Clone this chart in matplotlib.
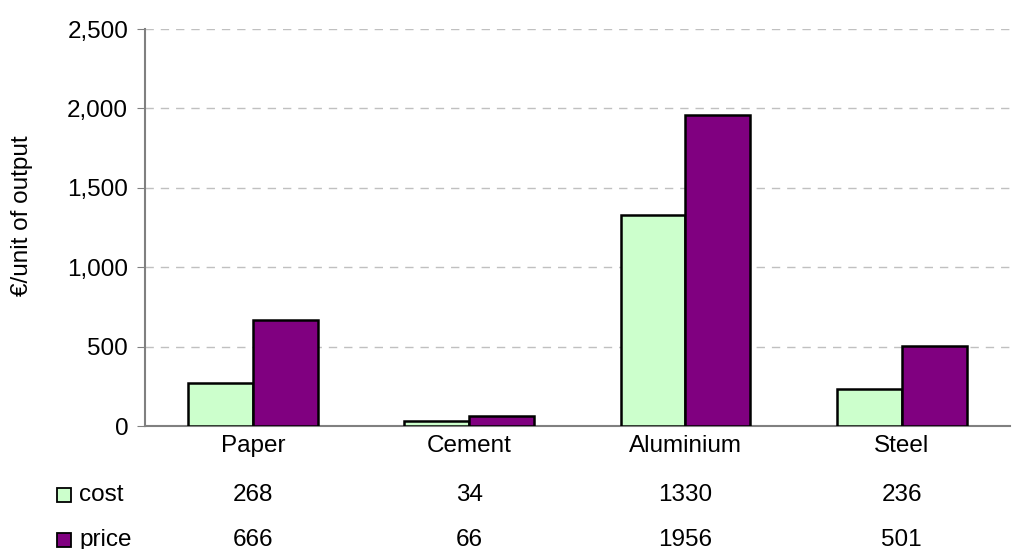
import numpy as np
import matplotlib.pyplot as plt
from matplotlib.patches import Rectangle
from matplotlib.transforms import blended_transform_factory

plt.rcParams['font.family'] = ['Liberation Sans', 'DejaVu Sans']

categories = ['Paper', 'Cement', 'Aluminium', 'Steel']
cost = [268, 34, 1330, 236]
price = [666, 66, 1956, 501]
series = ['cost', 'price']
colors = ['#ccffcc', '#800080']

fs = 17.5

fig = plt.figure(figsize=(10.2, 5.49), dpi=100)
ax = fig.add_axes([0.142, 0.224, 0.848, 0.723])

x = np.arange(len(categories))
w = 0.3
ax.bar(x - w / 2, cost, w, color=colors[0], edgecolor='black', linewidth=1.8, zorder=3)
ax.bar(x + w / 2, price, w, color=colors[1], edgecolor='black', linewidth=1.8, zorder=3)

ax.set_xlim(-0.5, len(categories) - 0.5)
ax.set_ylim(0, 2500)
ax.set_yticks(np.arange(0, 2501, 500))
ax.set_yticklabels([f'{v:,}' for v in range(0, 2501, 500)], fontsize=fs)
ax.set_xticks([])
ax.yaxis.grid(True, linestyle=(0, (6, 5)), color='#c0c0c0', linewidth=1)
ax.set_axisbelow(True)
ax.tick_params(axis='y', direction='out', length=6, color='#808080', pad=6)
ax.set_ylabel('€/unit of output', fontsize=fs, va='center')
ax.yaxis.set_label_coords(-0.142, 0.53)

for s in ['top', 'right']:
    ax.spines[s].set_visible(False)
for s in ['left', 'bottom']:
    ax.spines[s].set_color('#808080')
    ax.spines[s].set_linewidth(1.5)

# data table below the axes
row_y = [-0.174, -0.287]
tr = blended_transform_factory(ax.transData, ax.transAxes)
for i, c in enumerate(categories):
    ax.text(i, -0.05, c, transform=tr, ha='center', va='center', fontsize=fs)
    ax.text(i, row_y[0], str(cost[i]), transform=tr, ha='center', va='center', fontsize=fs)
    ax.text(i, row_y[1], str(price[i]), transform=tr, ha='center', va='center', fontsize=fs)

for name, col, yy in zip(series, colors, row_y):
    ax.add_patch(Rectangle((-0.101, yy - 0.018), 0.016, 0.036, transform=ax.transAxes,
                           facecolor=col, edgecolor='black', linewidth=1.3, clip_on=False))
    ax.text(-0.076, yy, name, transform=ax.transAxes, ha='left', va='center', fontsize=fs)

fig.savefig('out.png', dpi=100)
